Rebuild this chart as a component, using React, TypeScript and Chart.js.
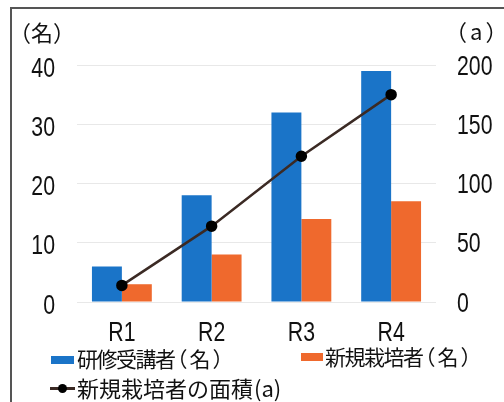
import React, { useEffect, useRef } from "react";
import { Chart, registerables } from "chart.js";

Chart.register(...registerables);

const categories = ["R1", "R2", "R3", "R4"];
const trainees = [6, 18, 32, 39];
const newGrowers = [3, 8, 14, 17];
const newArea = [14, 64, 123, 175];
const leftAxisMax = 40;
const leftStep = 10;
const rightAxisMax = 200;
const rightStep = 50;
const seriesNames = ["研修受講者", "新規栽培者", "新規栽培者の面積"];
const leftUnit = "名";
const rightUnit = "a";

const BLUE = "#1a74c8";
const ORANGE = "#ef692d";
const LINE = "#3b2a24";
const NUM_FONT = "28px 'Liberation Sans', Arial, sans-serif";
const JP_FONT = "'Noto Sans CJK JP', 'Noto Sans CJK SC', sans-serif";
const NARROW = 0.76;

function drawNarrow(ctx: CanvasRenderingContext2D, text: string, x: number, y: number, align: CanvasTextAlign) {
  ctx.save();
  ctx.translate(x, y);
  ctx.scale(NARROW, 1);
  ctx.textAlign = align;
  ctx.textBaseline = "alphabetic";
  ctx.fillText(text, 0, 0);
  ctx.restore();
}

const narrowTickPlugin = {
  id: "narrowTicks",
  afterDraw(chart: any) {
    const ctx = chart.ctx as CanvasRenderingContext2D;
    ctx.save();
    ctx.fillStyle = "#111";
    ctx.font = NUM_FONT;
    const y = chart.scales.y;
    y.ticks.forEach((t: any) => {
      const py = y.getPixelForValue(t.value);
      drawNarrow(ctx, String(t.value), y.right - 22, py + 11.5, "right");
    });
    const y2 = chart.scales.y2;
    y2.ticks.forEach((t: any) => {
      const py = y2.getPixelForValue(t.value);
      drawNarrow(ctx, String(t.value), y2.left + 21, py + 9.5, "left");
    });
    const x = chart.scales.x;
    x.ticks.forEach((t: any, i: number) => {
      const px = x.getPixelForTick(i);
      drawNarrow(ctx, String(x.getLabelForValue(t.value)), px, x.top + 38.5, "center");
    });
    ctx.restore();
  },
};

export default function App() {
  const canvasRef = useRef<HTMLCanvasElement | null>(null);

  useEffect(() => {
    const canvas = canvasRef.current;
    if (!canvas) return;
    const chart = new Chart(canvas, {
      type: "bar",
      data: {
        labels: categories,
        datasets: [
          {
            type: "line",
            label: seriesNames[2],
            data: newArea,
            yAxisID: "y2",
            borderColor: LINE,
            borderWidth: 2.5,
            pointBackgroundColor: "#000",
            pointBorderColor: "#000",
            pointRadius: 4.5,
            tension: 0,
            order: 0,
          } as any,
          {
            type: "bar",
            label: seriesNames[0],
            data: trainees,
            yAxisID: "y",
            backgroundColor: BLUE,
            barPercentage: 1,
            categoryPercentage: 0.667,
            order: 1,
          },
          {
            type: "bar",
            label: seriesNames[1],
            data: newGrowers,
            yAxisID: "y",
            backgroundColor: ORANGE,
            barPercentage: 1,
            categoryPercentage: 0.667,
            order: 1,
          },
        ],
      },
      options: {
        responsive: false,
        animation: false,
        devicePixelRatio: 1,
        layout: { padding: { top: 65, left: 0, right: 0, bottom: 0 } },
        plugins: {
          legend: { display: false },
          tooltip: { enabled: false },
          title: { display: false },
        },
        scales: {
          x: {
            grid: { display: false },
            border: { display: false },
            ticks: { display: false },
            afterFit: (s: any) => {
              s.height = 100;
            },
          },
          y: {
            position: "left",
            min: 0,
            max: leftAxisMax,
            ticks: { stepSize: leftStep, display: false },
            grid: { color: "#e8e8e8", drawTicks: false, lineWidth: 1 },
            border: { display: false },
            afterFit: (s: any) => {
              s.width = 77;
            },
          },
          y2: {
            position: "right",
            min: 0,
            max: rightAxisMax,
            ticks: { stepSize: rightStep, display: false },
            grid: { display: false, drawTicks: false },
            border: { display: false },
            afterFit: (s: any) => {
              s.width = 68;
            },
          },
        },
      },
      plugins: [narrowTickPlugin],
    });
    return () => chart.destroy();
  }, []);

  const textStyle: React.CSSProperties = {
    position: "fixed",
    fontFamily: JP_FONT,
    fontSize: 21,
    lineHeight: "22px",
    color: "#111",
    whiteSpace: "nowrap",
    margin: 0,
  };
  const row1: React.CSSProperties = { ...textStyle, letterSpacing: -1.5 };
  // full-width brackets, spacing tuned per label
  const paren = (inner: string, lead: number, mid: number, tail: number): React.ReactNode => (
    <span style={{ letterSpacing: 0 }}>
      <span style={{ marginLeft: lead }}>（</span>
      <span style={{ marginLeft: mid }}>{inner}</span>
      <span style={{ marginLeft: tail }}>）</span>
    </span>
  );

  return (
    <div style={{ position: "fixed", left: 0, top: 0, width: 504, height: 402, overflow: "hidden", background: "#fff" }}>
      <div
        style={{
          position: "fixed",
          left: 10,
          top: 7,
          width: 600,
          height: 500,
          border: "2px solid #555",
          boxSizing: "border-box",
        }}
      />
      <canvas
        ref={canvasRef}
        width={504}
        height={402}
        style={{ position: "fixed", left: 0, top: 0, width: 504, height: 402 }}
      />
      <div style={{ ...textStyle, fontSize: 22, left: 9, top: 20 }}>{paren(leftUnit, 0, 0, 0)}</div>
      <div style={{ ...textStyle, fontSize: 22, left: 445, top: 19 }}>{paren(rightUnit, 0, 3, 3)}</div>

      <div style={{ position: "fixed", left: 51, top: 356, width: 23, height: 8, background: BLUE }} />
      <div style={{ ...row1, left: 77, top: 347 }}>
        {seriesNames[0]}
        {paren(leftUnit, -8, 2, 2)}
      </div>
      <div style={{ position: "fixed", left: 301, top: 353, width: 22, height: 8, background: ORANGE }} />
      <div style={{ ...row1, left: 325, top: 345 }}>
        {seriesNames[1]}
        {paren(leftUnit, -8, 2, 2)}
      </div>

      <div style={{ position: "fixed", left: 50, top: 387, width: 25, height: 2.5, background: LINE }} />
      <div
        style={{
          position: "fixed",
          left: 58,
          top: 384,
          width: 9,
          height: 9,
          borderRadius: "50%",
          background: "#000",
        }}
      />
      <div style={{ ...textStyle, fontSize: 22, left: 77, top: 376 }}>
        {seriesNames[2]}
        <span style={{ marginLeft: 1 }}>(</span>
        {rightUnit}
        <span>)</span>
      </div>
    </div>
  );
}
